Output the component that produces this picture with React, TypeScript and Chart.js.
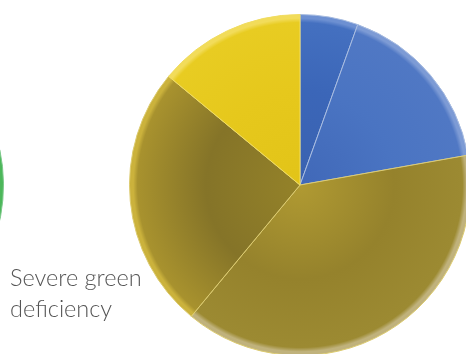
import React, { useEffect, useRef } from "react";
import { Chart, registerables } from "chart.js";

Chart.register(...registerables);

// Main pie (clockwise from 12 o'clock)
const sliceLabels = ["Blue A", "Blue B", "Gold", "Olive", "Yellow"];
const sliceValues = [5.5, 16.7, 38.8, 25.0, 14.0];

// Neighbouring pie, only its right edge is visible
const neighborLabels = ["Light blue", "Green"];
const neighborValues = [21.7, 78.3];

const caption = ["Severe green", "deficiency"];

// styles: [inner, mid, outer, rim]
const sliceShades = [
  ["#3a62b0", "#3b66b8", "#4470c0", "#6d90d2"],
  ["#4068b8", "#4a74c2", "#5078c4", "#7d9bd5"],
  ["#b09a32", "#95822c", "#9c8a32", "#c0b27c"],
  ["#948229", "#857428", "#a8922e", "#cbb23c"],
  ["#e2c418", "#e6c81c", "#e8cc22", "#f2dc5a"],
];
const sliceBorders = ["#a8bce0", "#a8bce0", "#dccb70", "#dccb70", "#f0dc60"];

function shade(ctx: any) {
  const chart = ctx.chart;
  const idx = ctx.dataIndex ?? 0;
  const s = sliceShades[idx % sliceShades.length];
  const area = chart.chartArea;
  if (!area) return s[1];
  const cx = (area.left + area.right) / 2;
  const cy = (area.top + area.bottom) / 2;
  const r = Math.min(area.right - area.left, area.bottom - area.top) / 2;
  const g = chart.ctx.createRadialGradient(cx, cy, 0, cx, cy, r);
  g.addColorStop(0, s[0]);
  g.addColorStop(0.55, s[1]);
  g.addColorStop(0.95, s[2]);
  g.addColorStop(0.975, s[3]);
  g.addColorStop(1, s[3]);
  return g;
}

function PieCanvas({
  labels,
  values,
  bg,
  border,
  style,
}: {
  labels: string[];
  values: number[];
  bg: any;
  border: any;
  style: React.CSSProperties;
}) {
  const ref = useRef<HTMLCanvasElement | null>(null);
  useEffect(() => {
    if (!ref.current) return;
    const chart = new Chart(ref.current, {
      type: "pie",
      data: {
        labels,
        datasets: [
          {
            data: values,
            backgroundColor: bg,
            borderColor: border,
            borderWidth: 1,
          },
        ],
      },
      options: {
        animation: false,
        responsive: false,
        maintainAspectRatio: false,
        layout: { padding: 9 },
        plugins: {
          legend: { display: false },
          tooltip: { enabled: false },
          title: { display: false },
        },
      },
    });
    return () => chart.destroy();
  }, []);
  return (
    <canvas
      ref={ref}
      width={360}
      height={360}
      style={{ position: "absolute", width: 360, height: 360, ...style }}
    />
  );
}

export default function App() {
  return (
    <div
      style={{
        position: "fixed",
        left: 0,
        top: 0,
        width: 466,
        height: 354,
        overflow: "hidden",
        background: "#ffffff",
      }}
    >
      <PieCanvas
        labels={neighborLabels}
        values={neighborValues}
        bg={["#d3e8f6", "#4cb75a"]}
        border={["#e6f2fa", "#7cc98a"]}
        style={{ left: -347, top: 5 }}
      />
      <PieCanvas
        labels={sliceLabels}
        values={sliceValues}
        bg={shade}
        border={sliceBorders}
        style={{ left: 120, top: 5 }}
      />
      <div
        style={{
          position: "absolute",
          left: 10,
          top: 262,
          fontFamily: "Lato, 'Open Sans', sans-serif",
          fontWeight: 300,
          fontSize: 23.5,
          lineHeight: "31px",
          color: "#555555",
          whiteSpace: "nowrap",
        }}
      >
        {caption[0]}
        <br />
        {caption[1]}
      </div>
    </div>
  );
}
